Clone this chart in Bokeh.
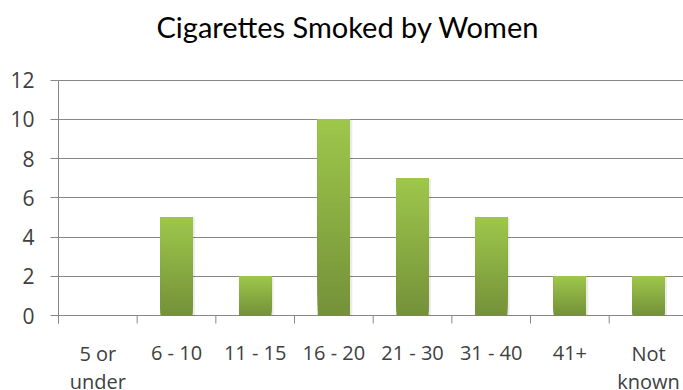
from bokeh.plotting import figure
from bokeh.models import Range1d, FixedTicker
from bokeh.core.properties import value
from bokeh.embed import file_html
from bokeh.resources import INLINE

# Data
categories = ["5 or\nunder", "6 - 10", "11 - 15", "16 - 20", "21 - 30", "31 - 40", "41+", "Not\nknown"]
counts = [0, 5, 2, 10, 7, 5, 2, 2]
y_ticks = [0, 2, 4, 6, 8, 10, 12]
title_text = "Cigarettes Smoked by Women"

TEXT = "#404040"
GRID = "#878787"
TOP = (0x9E, 0xC7, 0x4B)
BOTTOM = (0x74, 0x91, 0x39)
BAR_W = 0.41
SLICES = 40

# Layout: the plotting frame fills the canvas right of the y labels, so the
# category names and the title can sit inside it below/above the value area.
W, H = 683, 390
LEFT = 58
ZERO_PX = 315          # pixel row of value 0
TOP_PX = 79.5          # pixel row of value 12
CAT_PX = 78.67         # pixel width of one category
UNIT = (ZERO_PX - TOP_PX) / max(y_ticks)
TICK = 8 / UNIT        # 8px tick length in value units

p = figure(width=W, height=H, output_backend="svg", toolbar_location=None,
           x_range=Range1d(0, (W - LEFT) / CAT_PX),
           y_range=Range1d(-(H - ZERO_PX) / UNIT, ZERO_PX / UNIT),
           min_border_left=LEFT, min_border_right=0, min_border_top=0, min_border_bottom=0,
           outline_line_color=None, background_fill_color="white", border_fill_color="white")
p.xaxis.visible = False

# Bars with a vertical light-to-dark gradient: stacked layers, each one
# starting a little higher and a little lighter, all reaching the bar top
lefts, rights, bots, tops, cols = [], [], [], [], []
for i, v in enumerate(counts):
    if v <= 0:
        continue
    step = v / SLICES
    for k in range(SLICES):
        t = (k + 0.5) / SLICES
        c = tuple(int(round(BOTTOM[j] + (TOP[j] - BOTTOM[j]) * t)) for j in range(3))
        lefts.append(i + 0.5 - BAR_W / 2)
        rights.append(i + 0.5 + BAR_W / 2)
        bots.append(step * k)
        tops.append(v)
        cols.append("#%02x%02x%02x" % c)

# soft shadow behind bars
sh_l = [i + 0.5 - BAR_W / 2 + 0.02 for i, v in enumerate(counts) if v > 0]
sh_r = [i + 0.5 + BAR_W / 2 + 0.03 for i, v in enumerate(counts) if v > 0]
sh_t = [v - 0.05 for v in counts if v > 0]
p.quad(left=sh_l, right=sh_r, bottom=[0] * len(sh_l), top=sh_t,
       fill_color="#000000", fill_alpha=0.08, line_color=None)

p.quad(left=lefts, right=rights, bottom=bots, top=tops,
       fill_color=cols, line_color=None)

# Y axis: line runs from the lowest tick mark up to the top value
p.yaxis.ticker = FixedTicker(ticks=y_ticks)
p.yaxis.bounds = (-TICK, max(y_ticks))
p.yaxis.axis_line_color = GRID
p.yaxis.major_tick_line_color = GRID
p.yaxis.major_tick_out = 8
p.yaxis.major_tick_in = 0
p.yaxis.minor_tick_line_color = None
p.yaxis.major_label_text_font = "Open Sans"
p.yaxis.major_label_text_font_size = "21px"
p.yaxis.major_label_text_color = TEXT
p.yaxis.major_label_standoff = 16

p.ygrid.ticker = FixedTicker(ticks=y_ticks)
p.ygrid.grid_line_color = GRID
p.ygrid.grid_line_width = 1
p.xgrid.grid_line_color = None

# Category boundary tick marks below the zero line
bounds = list(range(len(categories) + 1))
p.segment(x0=bounds, y0=[0] * len(bounds), x1=bounds, y1=[-TICK] * len(bounds),
          line_color=GRID, line_width=1)

# Category names under each bar (one-line and two-line names anchored separately)
one = [i for i, c in enumerate(categories) if "\n" not in c]
two = [i for i, c in enumerate(categories) if "\n" in c]
label_style = dict(text_align="center", text_font=value("Open Sans"), text_font_size="20px",
                   text_color=TEXT, text_line_height=1.07)
p.text(x=[i + 0.5 for i in one], y=[0] * len(one), text=[categories[i] for i in one],
       y_offset=37, text_baseline="alphabetic", **label_style)
p.text(x=[i + 0.5 for i in two], y=[0] * len(two), text=[categories[i] for i in two],
       y_offset=24, text_baseline="top", **label_style)

# Title
title_x = ((W + LEFT) / 2 - 23 - LEFT) / CAT_PX
title_y = (ZERO_PX - 26) / UNIT
p.text(x=[title_x], y=[title_y], text=[title_text], text_align="center",
       text_baseline="alphabetic", text_font=value("Lato"), text_font_size="29px",
       text_color="#000000")

open("out.html", "w").write(file_html(p, INLINE))
